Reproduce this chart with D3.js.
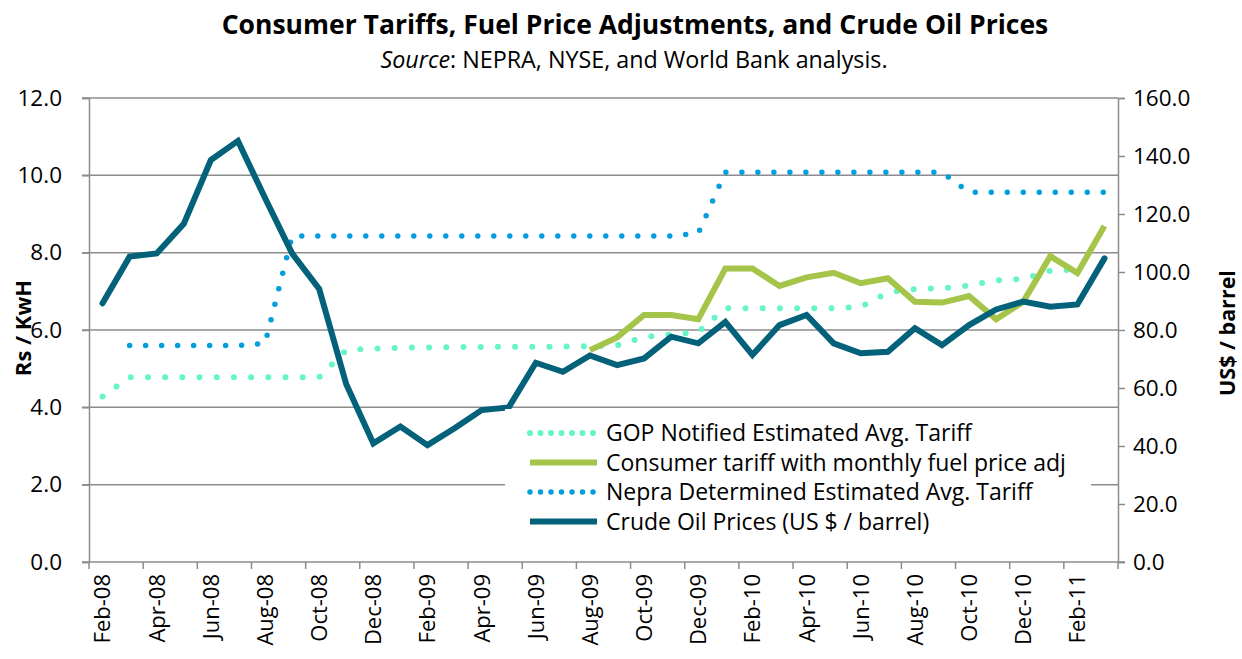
<!DOCTYPE html>
<html>
<head>
<meta charset="utf-8">
<script src="https://cdn.jsdelivr.net/npm/d3@7"></script>
<style>
  body { margin: 0; background: #fff; }
  svg { display: block; font-family: "Open Sans", Lato, sans-serif; }
</style>
</head>
<body>
<svg id="chart" width="1242" height="659"></svg>
<script>
const months = ["Feb-08","Mar-08","Apr-08","May-08","Jun-08","Jul-08","Aug-08","Sep-08","Oct-08","Nov-08","Dec-08",
  "Jan-09","Feb-09","Mar-09","Apr-09","May-09","Jun-09","Jul-09","Aug-09","Sep-09","Oct-09","Nov-09","Dec-09",
  "Jan-10","Feb-10","Mar-10","Apr-10","May-10","Jun-10","Jul-10","Aug-10","Sep-10","Oct-10","Nov-10","Dec-10",
  "Jan-11","Feb-11","Mar-11"];

// Left axis (Rs / KwH)
const gopTariff = [4.28,4.78,4.78,4.78,4.78,4.78,4.78,4.78,4.78,5.48,5.52,5.54,5.55,5.56,5.56,5.57,5.57,5.57,5.58,5.60,5.82,5.88,5.95,
  6.56,6.56,6.56,6.56,6.56,6.60,6.97,7.06,7.08,7.15,7.28,7.32,7.53,7.57,null];
const consumerTariff = [null,null,null,null,null,null,null,null,null,null,null,null,null,null,null,null,null,null,5.48,5.81,6.39,6.39,6.28,
  7.59,7.59,7.14,7.36,7.48,7.21,7.34,6.73,6.71,6.88,6.28,6.73,7.91,7.47,8.69];
const nepraTariff = [null,5.60,5.60,5.60,5.60,5.60,5.65,8.43,8.43,8.43,8.43,8.43,8.43,8.43,8.43,8.43,8.43,8.43,8.43,8.43,8.43,8.43,8.50,
  10.08,10.08,10.08,10.08,10.08,10.08,10.08,10.08,10.08,9.56,9.56,9.56,9.56,9.56,9.56];
// Right axis (US$ / barrel)
const crudeOil = [89.2,105.3,106.4,116.6,138.6,145.2,125.5,106.4,94.2,61.3,40.9,46.7,40.3,46.1,52.4,53.3,68.7,65.6,71.2,67.9,70.2,77.7,75.4,
  82.8,71.4,81.7,85.2,75.4,72.0,72.5,80.6,74.8,81.7,87.1,89.8,88.0,88.8,104.7];

const leftTicks = [0,2,4,6,8,10,12];
const rightTicks = [0,20,40,60,80,100,120,140,160];

const seriesNames = ["GOP Notified Estimated Avg. Tariff","Consumer tariff with monthly fuel price adj",
  "Nepra Determined Estimated Avg. Tariff","Crude Oil Prices (US $ / barrel)"];

const colors = { gop: "#66f5c9", consumer: "#a5c44a", nepra: "#039fdd", crude: "#03617a", grid: "#8c8c8c" };

const svg = d3.select("#chart");
const m = { left: 89, right: 1118, top: 98, bottom: 562 };

const x = d3.scaleBand().domain(months).range([m.left, m.right]).padding(0);
const cx = d => x(d) + x.bandwidth() / 2;
const yL = d3.scaleLinear().domain([0, 12]).range([m.bottom, m.top]);
const yR = d3.scaleLinear().domain([0, 160]).range([m.bottom, m.top]);

// Gridlines (left axis)
const gridG = svg.append("g");
leftTicks.filter(t => t > 0).forEach(t => {
  gridG.append("line").attr("x1", m.left - 7).attr("x2", m.right).attr("y1", yL(t)).attr("y2", yL(t))
    .attr("stroke", colors.grid).attr("stroke-width", 1.5);
});

const FF = "'Open Sans', Lato, sans-serif";

// Left axis
const leftAxis = d3.axisLeft(yL).tickValues(leftTicks).tickFormat(d3.format(".1f")).tickSize(7).tickPadding(20);
const gl = svg.append("g").attr("transform", `translate(${m.left},0)`).call(leftAxis);
gl.select(".domain").attr("stroke", colors.grid).attr("stroke-width", 1.5);
gl.selectAll(".tick line").attr("stroke", colors.grid).attr("stroke-width", 1.5);
gl.selectAll(".tick text").attr("font-size", 22.5).attr("fill", "#000").attr("font-family", FF);

// Right axis
const rightAxis = d3.axisRight(yR).tickValues(rightTicks).tickFormat(d3.format(".1f")).tickSize(7).tickPadding(8);
const gr = svg.append("g").attr("transform", `translate(${m.right},0)`).call(rightAxis);
gr.select(".domain").attr("stroke", colors.grid).attr("stroke-width", 1.5);
gr.selectAll(".tick line").attr("stroke", colors.grid).attr("stroke-width", 1.5);
gr.selectAll(".tick text").attr("font-size", 22.5).attr("fill", "#000").attr("font-family", FF);

// Bottom axis
const tickMonths = months.filter((d, i) => i % 2 === 0);
const gb = svg.append("g");
gb.append("line").attr("x1", m.left - 7).attr("x2", m.right + 7).attr("y1", m.bottom).attr("y2", m.bottom)
  .attr("stroke", colors.grid).attr("stroke-width", 1.5);
const tickXs = tickMonths.map(d => x(d)).concat([m.right]);
gb.selectAll("line.tk").data(tickXs).join("line").attr("class", "tk")
  .attr("x1", d => d).attr("x2", d => d).attr("y1", m.bottom).attr("y2", m.bottom + 7)
  .attr("stroke", colors.grid).attr("stroke-width", 1.5);
gb.selectAll("text").data(tickMonths).join("text")
  .attr("transform", d => `translate(${cx(d)},${m.bottom + 12}) rotate(-90)`)
  .attr("dy", "0.36em")
  .attr("text-anchor", "end").attr("font-size", 22).attr("fill", "#000").text(d => d);

// Lines
const lineL = d3.line().defined(d => d != null).x((d, i) => cx(months[i])).y(d => yL(d));
const lineR = d3.line().defined(d => d != null).x((d, i) => cx(months[i])).y(d => yR(d));

svg.append("path").datum(gopTariff).attr("d", lineL).attr("fill", "none")
  .attr("stroke", colors.gop).attr("stroke-width", 6).attr("stroke-linecap", "round").attr("stroke-dasharray", "0 17.2");
svg.append("path").datum(nepraTariff).attr("d", lineL).attr("fill", "none")
  .attr("stroke", colors.nepra).attr("stroke-width", 5.5).attr("stroke-linecap", "round").attr("stroke-dasharray", "0 16");
svg.append("path").datum(consumerTariff).attr("d", lineL).attr("fill", "none")
  .attr("stroke", colors.consumer).attr("stroke-width", 6).attr("stroke-linejoin", "miter");
svg.append("path").datum(crudeOil).attr("d", lineR).attr("fill", "none")
  .attr("stroke", colors.crude).attr("stroke-width", 6).attr("stroke-linejoin", "miter").attr("stroke-linecap", "round");

// Legend
const lg = svg.append("g");
lg.append("rect").attr("x", 505).attr("y", 409).attr("width", 586).attr("height", 130).attr("fill", "#fff");
const legendItems = [
  { name: seriesNames[0], color: colors.gop, dash: "0 10.5", w: 6 },
  { name: seriesNames[1], color: colors.consumer, dash: null, w: 6 },
  { name: seriesNames[2], color: colors.nepra, dash: "0 10.5", w: 5.5 },
  { name: seriesNames[3], color: colors.crude, dash: null, w: 6 }
];
legendItems.forEach((it, i) => {
  const yy = 433 + i * 29.5;
  const ln = lg.append("line").attr("x1", 530).attr("x2", it.dash ? 596 : 597).attr("y1", yy).attr("y2", yy)
    .attr("stroke", it.color).attr("stroke-width", it.w).attr("stroke-linecap", it.dash ? "round" : "butt");
  if (it.dash) ln.attr("stroke-dasharray", it.dash);
  lg.append("text").attr("x", 606).attr("y", yy + 8).attr("font-size", 23).attr("fill", "#000").text(it.name);
});

// Titles
svg.append("text").attr("x", 635).attr("y", 34).attr("text-anchor", "middle")
  .attr("font-size", 26.5).attr("font-weight", "bold").attr("fill", "#000")
  .text("Consumer Tariffs, Fuel Price Adjustments, and Crude Oil Prices");
const sub = svg.append("text").attr("x", 634).attr("y", 68).attr("text-anchor", "middle")
  .attr("font-size", 23.3).attr("fill", "#000");
sub.append("tspan").attr("font-style", "italic").text("Source");
sub.append("tspan").text(": NEPRA, NYSE, and World Bank analysis.");

svg.append("text").attr("transform", "translate(31,328) rotate(-90)").attr("text-anchor", "middle")
  .attr("font-size", 22).attr("font-weight", "bold").attr("fill", "#000").text("Rs / KwH");
svg.append("text").attr("transform", "translate(1235,333) rotate(-90)").attr("text-anchor", "middle")
  .attr("font-size", 21.5).attr("font-weight", "bold").attr("fill", "#000").text("US$ / barrel");
</script>
</body>
</html>
